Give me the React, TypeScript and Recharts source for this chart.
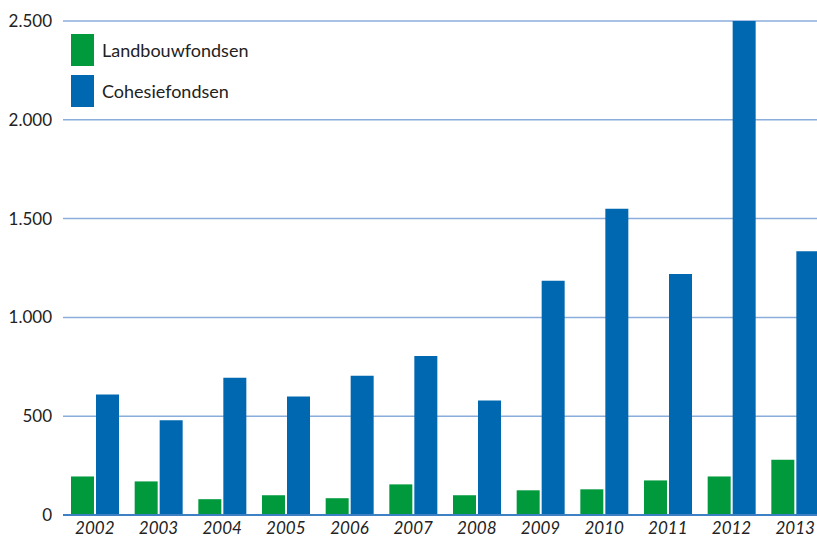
import { Bar, BarChart, CartesianGrid, XAxis, YAxis } from "recharts";

const years = ["2002", "2003", "2004", "2005", "2006", "2007", "2008", "2009", "2010", "2011", "2012", "2013"];
const landbouw = [195, 170, 80, 100, 85, 155, 100, 125, 130, 175, 195, 280];
const cohesie = [610, 480, 695, 600, 705, 805, 580, 1185, 1550, 1220, 2500, 1335];
const yTicks = [0, 500, 1000, 1500, 2000, 2500];

const series = [
  { key: "landbouw", name: "Landbouwfondsen", color: "#009a3d" },
  { key: "cohesie", name: "Cohesiefondsen", color: "#0068b0" },
];

const data = years.map((year, i) => ({
  year,
  landbouw: landbouw[i],
  cohesie: cohesie[i],
}));

const font = "Lato, 'Open Sans', sans-serif";

const fmt = (v: number) => v.toLocaleString("de-DE");

export default function App() {
  return (
    <div
      style={{
        position: "absolute",
        left: 0,
        top: 0,
        width: 817,
        height: 539,
        overflow: "hidden",
        background: "#fff",
        fontFamily: font,
      }}
    >
      <BarChart
        width={827}
        height={539}
        data={data}
        margin={{ top: 21, right: 0, bottom: 0, left: 0 }}
        barSize={23}
        barGap={2}
      >
        <CartesianGrid vertical={false} stroke="#8aaedb" strokeWidth={1.5} />
        <XAxis
          dataKey="year"
          height={24}
          interval={0}
          tickLine={false}
          axisLine={{ stroke: "#3d80c4", strokeWidth: 2 }}
          tick={{ fill: "#222", fontSize: 17, fontStyle: "italic", fontFamily: font }}
          tickMargin={1}
        />
        <YAxis
          width={63}
          domain={[0, 2500]}
          ticks={yTicks}
          tickFormatter={fmt}
          tickLine={false}
          axisLine={false}
          tickMargin={5}
          tick={{ fill: "#222", fontSize: 17, fontFamily: font }}
        />
        {series.map((s) => (
          <Bar key={s.key} dataKey={s.key} name={s.name} fill={s.color} isAnimationActive={false} />
        ))}
      </BarChart>
      <div style={{ position: "absolute", left: 71, top: 34 }}>
        {series.map((s) => (
          <div key={s.key} style={{ display: "flex", alignItems: "center", height: 32, marginBottom: 9 }}>
            <div style={{ width: 23, height: 32, background: s.color }} />
            <span style={{ marginLeft: 8, fontSize: 18, color: "#222" }}>{s.name}</span>
          </div>
        ))}
      </div>
    </div>
  );
}
